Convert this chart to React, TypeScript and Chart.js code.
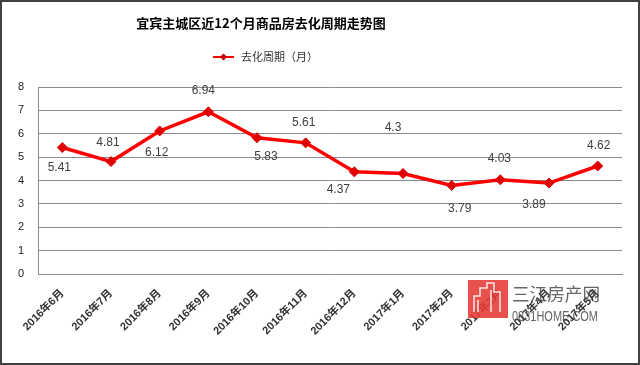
import React, { useEffect, useRef } from 'react';
import { Chart, registerables } from 'chart.js';

Chart.register(...registerables);

const chartTitle = '宜宾主城区近12个月商品房去化周期走势图';
const seriesName = '去化周期（月）';
const categories = [
  '2016年6月', '2016年7月', '2016年8月', '2016年9月', '2016年10月', '2016年11月',
  '2016年12月', '2017年1月', '2017年2月', '2017年3月', '2017年4月', '2017年5月',
];
const values = [5.41, 4.81, 6.12, 6.94, 5.83, 5.61, 4.37, 4.3, 3.79, 4.03, 3.89, 4.62];
const labelTexts = ['5.41', '4.81', '6.12', '6.94', '5.83', '5.61', '4.37', '4.3', '3.79', '4.03', '3.89', '4.62'];
const yMin = 0;
const yMax = 8;
const yStep = 1;

// label placement (style only)
const labelDx = [-3, -3, -3, -5, 9, -2, -16, -10, 8, -1, -15, 1];
const labelDy = [20, -19, 22, -21, 19, -20, 18, -46, 23, -21, 22, -20];

const CJK = '"Noto Sans CJK SC"';

function fitText(ctx: any, text: string, x: number, y: number, w: number) {
  const m = ctx.measureText(text).width;
  ctx.save();
  ctx.translate(x, y);
  ctx.scale(w / m, 1);
  ctx.fillText(text, 0, 0);
  ctx.restore();
}

const decorPlugin = {
  id: 'decor',
  beforeDraw(chart: any) {
    const { ctx, width, height } = chart;
    ctx.save();
    ctx.fillStyle = '#ffffff';
    ctx.fillRect(0, 0, width, height);
    // title
    ctx.fillStyle = '#000000';
    ctx.font = `bold 13px ${CJK}`;
    ctx.textAlign = 'center';
    ctx.textBaseline = 'middle';
    ctx.fillText(chartTitle, 261, 23);
    // legend
    const ly = 57;
    ctx.strokeStyle = '#ff0000';
    ctx.lineWidth = 2;
    ctx.beginPath();
    ctx.moveTo(213, ly);
    ctx.lineTo(234, ly);
    ctx.stroke();
    ctx.fillStyle = '#c00000';
    ctx.beginPath();
    ctx.moveTo(223.5, ly - 3.5);
    ctx.lineTo(227, ly);
    ctx.lineTo(223.5, ly + 3.5);
    ctx.lineTo(220, ly);
    ctx.closePath();
    ctx.fill();
    ctx.fillStyle = '#333333';
    ctx.font = `11px ${CJK}`;
    ctx.textAlign = 'left';
    ctx.fillText(seriesName, 241, ly);
    ctx.restore();
  },
  afterDatasetsDraw(chart: any) {
    const { ctx } = chart;
    const meta = chart.getDatasetMeta(0);
    ctx.save();
    ctx.fillStyle = '#404040';
    ctx.font = '12px "Liberation Sans"';
    ctx.textAlign = 'center';
    ctx.textBaseline = 'middle';
    meta.data.forEach((pt: any, i: number) => {
      ctx.fillText(labelTexts[i], pt.x + labelDx[i], pt.y + labelDy[i]);
    });
    ctx.restore();
  },
  afterDraw(chart: any) {
    const { ctx, width, height } = chart;
    ctx.save();
    // watermark
    ctx.globalAlpha = 0.88;
    ctx.fillStyle = '#e53935';
    ctx.fillRect(468, 280, 40, 38);
    ctx.strokeStyle = '#ffffff';
    ctx.lineWidth = 1.5;
    ctx.beginPath();
    ctx.moveTo(474, 312); ctx.lineTo(474, 296); ctx.lineTo(480, 296); ctx.lineTo(480, 288);
    ctx.lineTo(487, 288); ctx.lineTo(487, 283); ctx.lineTo(494, 283); ctx.lineTo(494, 292);
    ctx.lineTo(500, 292); ctx.lineTo(500, 312);
    ctx.stroke();
    ctx.beginPath();
    ctx.moveTo(478, 312); ctx.lineTo(478, 300); ctx.moveTo(491, 312); ctx.lineTo(491, 290);
    ctx.stroke();
    ctx.globalAlpha = 0.85;
    ctx.fillStyle = '#4a4a4a';
    ctx.font = `18px ${CJK}`;
    ctx.textAlign = 'left';
    ctx.textBaseline = 'middle';
    fitText(ctx, '三江房产网', 512, 294, 88);
    ctx.font = '14px "Liberation Sans"';
    fitText(ctx, '0831HOME.COM', 512, 317, 86);
    ctx.globalAlpha = 1;
    // outer border
    ctx.strokeStyle = '#404040';
    ctx.lineWidth = 2;
    ctx.strokeRect(1, 1, width - 2, height - 2);
    ctx.restore();
  },
};

export default function App() {
  const canvasRef = useRef<HTMLCanvasElement>(null);

  useEffect(() => {
    document.body.style.margin = '0';
    const canvas = canvasRef.current;
    if (!canvas) return;
    const chart = new Chart(canvas, {
      type: 'line',
      data: {
        labels: categories,
        datasets: [
          {
            label: seriesName,
            data: values,
            borderColor: '#ff0000',
            borderWidth: 3.5,
            pointStyle: 'rectRot',
            pointRadius: 5,
            pointBackgroundColor: '#e00000',
            pointBorderColor: '#e00000',
            pointBorderWidth: 1,
            tension: 0,
            fill: false,
          },
        ],
      },
      options: {
        responsive: false,
        animation: false,
        devicePixelRatio: 1,
        layout: { padding: { left: 0, right: 18, top: 87, bottom: 0 } },
        plugins: {
          legend: { display: false },
          title: { display: false },
          tooltip: { enabled: false },
        },
        scales: {
          x: {
            offset: true,
            grid: { display: false, drawTicks: false },
            border: { display: true, color: '#8c8c8c', width: 1 },
            ticks: {
              autoSkip: false,
              minRotation: 45,
              maxRotation: 45,
              padding: 13,
              color: '#333333',
              font: { family: `"Liberation Sans", ${CJK}`, size: 11, weight: 'bold' },
            },
            afterFit: (s: any) => { s.height = 91; },
          },
          y: {
            min: yMin,
            max: yMax,
            grid: { color: '#8c8c8c', lineWidth: 1, drawTicks: false },
            border: { display: true, color: '#8c8c8c', width: 1 },
            ticks: {
              stepSize: yStep,
              padding: 14,
              color: '#222222',
              font: { family: '"Liberation Sans"', size: 11 },
            },
            afterFit: (s: any) => { s.width = 38; },
          },
        },
      },
      plugins: [decorPlugin],
    });
    return () => chart.destroy();
  }, []);

  return (
    <div style={{ width: 640, height: 365 }}>
      <canvas ref={canvasRef} width={640} height={365} style={{ display: 'block' }} />
    </div>
  );
}
